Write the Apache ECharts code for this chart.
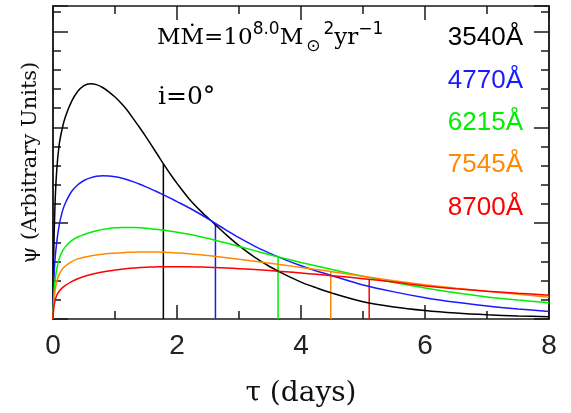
<!DOCTYPE html>
<html><head><meta charset="utf-8">
<script src="https://cdn.jsdelivr.net/npm/echarts@6/dist/echarts.min.js"></script>
<style>html,body{margin:0;padding:0;background:#fff}#c{width:571px;height:413px}</style>
</head><body><div id="c"></div>
<script>
// ---- data ----
const tau = [0, 0.01, 0.03, 0.06, 0.1, 0.15, 0.2, 0.3, 0.4, 0.5, 0.6, 0.7, 0.8, 0.9, 1.0, 1.1, 1.2, 1.3, 1.4, 1.5, 1.6, 1.7, 1.8, 1.9, 2.0, 2.2, 2.4, 2.6, 2.8, 3.0, 3.25, 3.5, 3.75, 4.0, 4.25, 4.5, 5.0, 5.5, 6.0, 6.5, 7.0, 7.5, 8.0];
const psi3540 = [0, 0.6, 1.15, 1.55, 1.82, 1.99, 2.11, 2.27, 2.375, 2.435, 2.455, 2.445, 2.415, 2.37, 2.315, 2.25, 2.175, 2.085, 1.995, 1.9, 1.8, 1.70, 1.60, 1.505, 1.415, 1.25, 1.115, 0.995, 0.875, 0.765, 0.645, 0.545, 0.46, 0.385, 0.325, 0.27, 0.18, 0.125, 0.088, 0.062, 0.044, 0.032, 0.024];
const psi4770 = [0, 0.33, 0.6, 0.8, 0.98, 1.12, 1.21, 1.33, 1.40, 1.445, 1.472, 1.488, 1.494, 1.492, 1.483, 1.47, 1.452, 1.43, 1.405, 1.378, 1.35, 1.32, 1.29, 1.258, 1.225, 1.158, 1.085, 1.005, 0.925, 0.848, 0.76, 0.685, 0.617, 0.555, 0.5, 0.452, 0.355, 0.283, 0.222, 0.174, 0.136, 0.105, 0.079];
const psi6215 = [0, 0.2, 0.38, 0.52, 0.63, 0.705, 0.755, 0.818, 0.855, 0.882, 0.903, 0.92, 0.935, 0.945, 0.951, 0.954, 0.955, 0.954, 0.951, 0.946, 0.94, 0.933, 0.925, 0.916, 0.906, 0.883, 0.855, 0.825, 0.792, 0.757, 0.713, 0.67, 0.63, 0.59, 0.553, 0.516, 0.445, 0.38, 0.324, 0.273, 0.23, 0.197, 0.17];
const psi7545 = [0, 0.15, 0.28, 0.39, 0.465, 0.52, 0.553, 0.598, 0.627, 0.645, 0.658, 0.668, 0.676, 0.682, 0.687, 0.691, 0.695, 0.697, 0.699, 0.70, 0.70, 0.698, 0.696, 0.693, 0.689, 0.68, 0.668, 0.655, 0.64, 0.624, 0.603, 0.582, 0.56, 0.538, 0.516, 0.494, 0.447, 0.40, 0.358, 0.322, 0.29, 0.258, 0.228];
const psi8700 = [0, 0.1, 0.185, 0.245, 0.29, 0.325, 0.35, 0.39, 0.42, 0.443, 0.462, 0.477, 0.49, 0.501, 0.511, 0.519, 0.526, 0.532, 0.536, 0.54, 0.542, 0.544, 0.545, 0.546, 0.546, 0.545, 0.542, 0.537, 0.532, 0.525, 0.516, 0.505, 0.493, 0.48, 0.466, 0.452, 0.421, 0.385, 0.345, 0.315, 0.29, 0.268, 0.249];
const bandLabels = ['3540Å', '4770Å', '6215Å', '7545Å', '8700Å'];
const bandColors = ['#000000', '#1a1aff', '#00ee00', '#ff8a00', '#ff0000'];
const centroidTau = [1.78, 2.62, 3.63, 4.48, 5.10];
const centroidPsi = [1.62, 0.995, 0.64, 0.495, 0.42];
const xTicks = [0, 2, 4, 6, 8];
const curves = [psi3540, psi4770, psi6215, psi7545, psi8700];

const FG = '#1a1a1a';
const yMax = 3.265;
function yAx(pos, interval, len) {
  return {type: 'value', position: pos, min: 0, max: yMax, interval: interval,
    axisLine: {show: true, onZero: false, lineStyle: {color: FG, width: 1.5}},
    axisTick: {show: true, inside: true, length: len, lineStyle: {color: FG, width: 1.5}},
    axisLabel: {show: false}, splitLine: {show: false}};
}
function xAx(pos, showLabel) {
  return {type: 'value', position: pos, min: 0, max: 8, interval: 2,
    axisLine: {show: true, onZero: false, lineStyle: {color: FG, width: 1.5}},
    axisTick: {show: true, inside: true, length: 14, lineStyle: {color: FG, width: 1.5}},
    minorTick: {show: true, splitNumber: 2, length: 8, lineStyle: {color: FG, width: 1.5}},
    axisLabel: {show: showLabel, fontSize: 28, fontFamily: 'Liberation Sans', color: '#222', margin: 13,
      customValues: xTicks},
    splitLine: {show: false}, minorSplitLine: {show: false},
    name: showLabel ? 'τ (days)' : '', nameLocation: 'middle', nameGap: 61,
    nameTextStyle: {fontFamily: 'DejaVu Serif', fontSize: 28, color: '#111'}};
}
const yA = [yAx('left', 1, 15), yAx('left', 0.2, 8), yAx('right', 1, 15), yAx('right', 0.2, 8)];
yA[0].name = 'ψ (Arbitrary Units)';
yA[0].nameLocation = 'middle';
yA[0].nameGap = 12;
yA[0].nameTextStyle = {fontFamily: 'DejaVu Serif', fontSize: 21, color: '#111'};

const series = [];
curves.forEach((c, i) => {
  series.push({type: 'line', xAxisIndex: 0, yAxisIndex: 0, data: tau.map((t, k) => [t, c[k]]),
    showSymbol: false, smooth: 0.3, lineStyle: {color: bandColors[i], width: 1.5},
    itemStyle: {color: bandColors[i]}, z: 3, silent: true});
});
centroidTau.forEach((t, i) => {
  series.push({type: 'line', xAxisIndex: 0, yAxisIndex: 0, data: [[t, 0], [t, centroidPsi[i]]],
    showSymbol: false, lineStyle: {color: bandColors[i], width: 1.5}, z: 2, silent: true});
});

const legendY = [38, 80.5, 122.5, 164.5, 207.5];
const graphics = bandLabels.map((s, i) => ({
  type: 'text', z: 10,
  style: {text: s, x: 523, y: legendY[i], font: '26px "Liberation Sans"', fill: bandColors[i],
    align: 'right', verticalAlign: 'middle', textAlign: 'right', textVerticalAlign: 'middle'}
}));
graphics.push({
  type: 'text', z: 10, left: 157, top: 21,
  style: {text: '{m|MṀ=10}{sup|8.0}{m|M}{sub|⊙}{sup|2}{m|yr}{sup|−1}', fill: '#000',
    rich: {
      m: {fontFamily: 'DejaVu Serif', fontSize: 23, lineHeight: 34, fill: '#000', color: '#000'},
      sup: {fontFamily: 'DejaVu Sans', fontSize: 17, lineHeight: 17, verticalAlign: 'top', fill: '#000', color: '#000'},
      sub: {fontFamily: 'DejaVu Sans', fontSize: 17, lineHeight: 17, verticalAlign: 'bottom', padding: [0, 3, 0, 3], fill: '#000', color: '#000'}
    }}
});
graphics.push({
  type: 'text', z: 10,
  style: {text: 'i=0°', x: 158, y: 97, font: '25px "DejaVu Serif"', fill: '#000',
    align: 'left', verticalAlign: 'middle', textAlign: 'left', textVerticalAlign: 'middle'}
});

const chart = echarts.init(document.getElementById('c'), null, {renderer: 'canvas'});
chart.setOption({
  animation: false,
  backgroundColor: '#fff',
  grid: {left: 53, right: 22, top: 6, bottom: 88, containLabel: false},
  xAxis: [xAx('bottom', true), xAx('top', false)],
  yAxis: yA,
  series: series,
  graphic: graphics
});
</script>
</body></html>
